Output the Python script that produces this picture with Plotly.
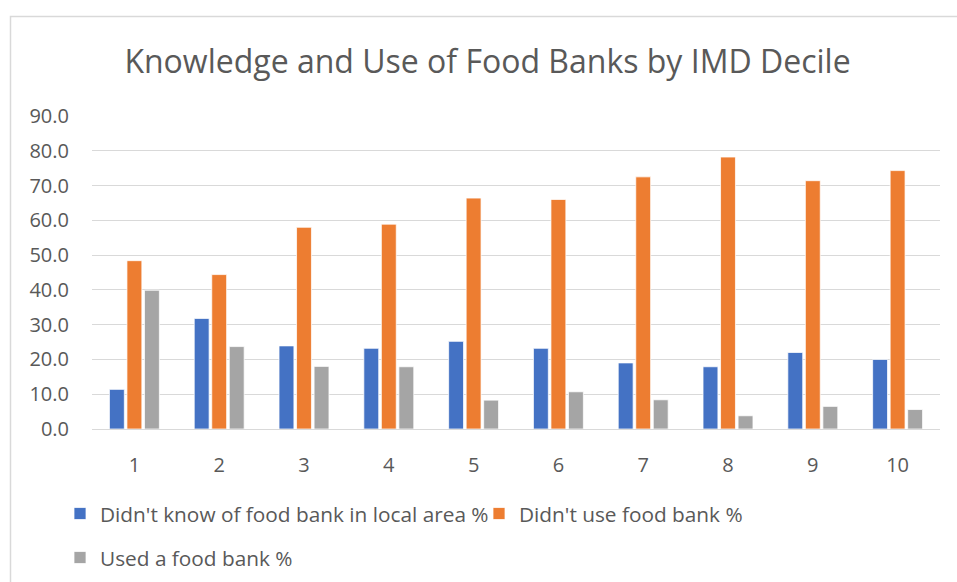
import plotly.graph_objects as go

# IMD decile categories
deciles = ["1", "2", "3", "4", "5", "6", "7", "8", "9", "10"]

# Percentages per decile
didnt_know = [11.4, 31.8, 23.9, 23.2, 25.2, 23.2, 19.0, 17.9, 22.0, 20.0]
didnt_use = [48.4, 44.4, 58.0, 58.9, 66.4, 66.0, 72.5, 78.2, 71.4, 74.3]
used = [39.9, 23.7, 18.0, 17.9, 8.3, 10.7, 8.4, 3.8, 6.5, 5.6]

y_ticks = [0, 10, 20, 30, 40, 50, 60, 70, 80, 90]

TEXT = "#595959"
GRID = "#D9D9D9"
FONT = "Open Sans"

W, H = 957, 582
L, R, T, B = 92, 17, 116, 153
plot_w = W - L - R
plot_h = H - T - B


def px_to_paper_x(px):
    return (px - L) / plot_w


def px_to_paper_y(py):
    return (H - B - py) / plot_h


fig = go.Figure()
fig.add_trace(go.Bar(
    x=deciles, y=didnt_know, name="Didn't know of food bank in local area %",
    marker=dict(color="#4472C4", line=dict(color="white", width=0.75)),
    legend="legend",
))
fig.add_trace(go.Bar(
    x=deciles, y=didnt_use, name="Didn't use food bank %",
    marker=dict(color="#ED7D31", line=dict(color="white", width=0.75)),
    legend="legend3",
))
fig.add_trace(go.Bar(
    x=deciles, y=used, name="Used a food bank %",
    marker=dict(color="#A5A5A5", line=dict(color="white", width=0.75)),
    legend="legend2",
))

legend_common = dict(
    orientation="h", xref="container", xanchor="left",
    yref="container", yanchor="middle",
    font=dict(family=FONT, size=20.8, color=TEXT),
    itemwidth=30, bgcolor="rgba(0,0,0,0)",
)

fig.update_layout(
    width=W, height=H,
    margin=dict(l=L, r=R, t=T, b=B, autoexpand=False),
    paper_bgcolor="white", plot_bgcolor="white",
    font=dict(family=FONT, color=TEXT, size=20),
    showlegend=True,
    barmode="group", bargap=0.38, bargroupgap=0.15,
    title=dict(
        text="Knowledge and Use of Food Banks by IMD Decile",
        font=dict(family=FONT, size=32, color=TEXT),
        xref="container", x=487.5 / W, xanchor="center",
        yref="container", y=1 - 62 / H, yanchor="middle",
    ),
    xaxis=dict(
        type="category", showgrid=False, showline=True, linecolor=GRID,
        linewidth=1, ticks="", ticklabelstandoff=18,
        tickfont=dict(family=FONT, size=20, color=TEXT),
    ),
    yaxis=dict(
        range=[0, 90], tickvals=y_ticks,
        ticktext=[f"{v:.1f}" for v in y_ticks],
        showgrid=True, gridcolor=GRID, gridwidth=1.2, zeroline=False,
        ticks="", ticklabelstandoff=22,
        tickfont=dict(family=FONT, size=20, color=TEXT),
    ),
    legend=dict(legend_common, x=60 / W, y=1 - 514 / H),
    legend3=dict(legend_common, x=479 / W, y=1 - 514 / H),
    legend2=dict(legend_common, x=60 / W, y=1 - 558 / H),
    shapes=[dict(
        type="rect", xref="paper", yref="paper",
        x0=px_to_paper_x(10.5), x1=px_to_paper_x(W + 20),
        y0=px_to_paper_y(H + 20), y1=px_to_paper_y(16.5),
        line=dict(color=GRID, width=1.5), fillcolor="rgba(0,0,0,0)",
        layer="below",
    )],
)

fig.write_html("out.html")
